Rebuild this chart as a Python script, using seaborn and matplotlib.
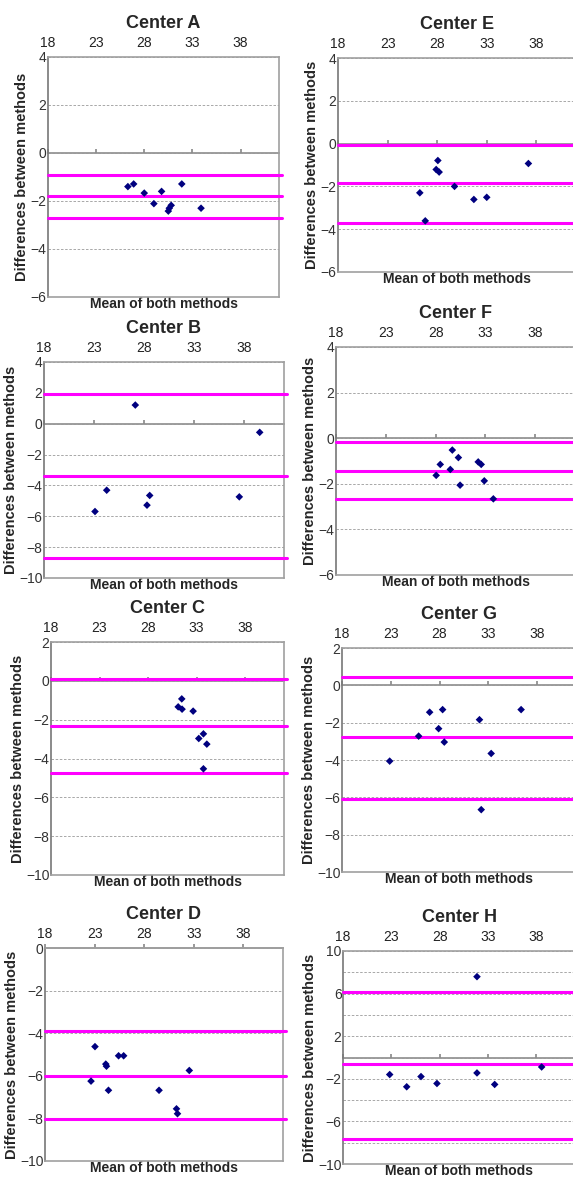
import matplotlib.pyplot as plt
import seaborn as sns
from matplotlib.ticker import MultipleLocator

sns.set_theme(style="white")
plt.rcParams["font.family"] = ["Liberation Sans", "DejaVu Sans"]

# shared x axis
x_ticks = [18, 23, 28, 33, 38]
x_range = [18, 42]

# Center A
a_mean = [26.3, 26.9, 28.0, 29.0, 29.8, 30.5, 30.6, 30.8, 31.9, 33.9]
a_diff = [-1.40, -1.29, -1.67, -2.11, -1.60, -2.42, -2.30, -2.18, -1.29, -2.30]
a_limits = [-0.92, -1.80, -2.70]
a_yticks = [-6, -4, -2, 0, 2, 4]

# Center E
e_mean = [26.25, 26.8, 28.07, 27.9, 28.2, 29.75, 31.7, 33.0, 37.2]
e_diff = [-2.30, -3.61, -0.79, -1.21, -1.33, -2.00, -2.61, -2.51, -0.93]
e_limits = [-0.05, -1.86, -3.73]
e_yticks = [-6, -4, -2, 0, 2, 4]

# Center B
b_mean = [23.1, 24.27, 27.13, 28.3, 28.57, 37.53, 39.57]
b_diff = [-5.69, -4.31, 1.21, -5.28, -4.65, -4.74, -0.56]
b_limits = [1.93, -3.38, -8.68]
b_yticks = [-10, -8, -6, -4, -2, 0, 2, 4]

# Center F
f_mean = [28.06, 28.47, 29.48, 29.68, 30.29, 30.46, 32.28, 32.58, 32.89, 33.8]
f_diff = [-1.63, -1.15, -1.37, -0.52, -0.85, -2.06, -1.04, -1.15, -1.87, -2.66]
f_limits = [-0.16, -1.43, -2.67]
f_yticks = [-6, -4, -2, 0, 2, 4]

# Center C
c_mean = [31.1, 31.47, 31.5, 32.64, 33.22, 33.7, 34.05, 33.7]
c_diff = [-1.34, -0.93, -1.46, -1.56, -2.97, -2.73, -3.26, -4.53]
c_limits = [0.10, -2.32, -4.77]
c_yticks = [-10, -8, -6, -4, -2, 0, 2]

# Center G
g_mean = [22.89, 25.86, 26.99, 27.91, 28.32, 28.49, 32.1, 32.28, 33.3, 36.37]
g_diff = [-4.06, -2.72, -1.44, -2.32, -1.30, -3.04, -1.84, -6.66, -3.65, -1.30]
g_limits = [0.47, -2.78, -6.10]
g_yticks = [-10, -8, -6, -4, -2, 0, 2]

# Center D
d_mean = [22.64, 23.04, 24.13, 24.2, 24.4, 25.42, 25.93, 29.5, 31.26, 31.36, 32.55]
d_diff = [-6.25, -4.63, -5.45, -5.55, -6.68, -5.06, -5.06, -6.68, -7.55, -7.78, -5.75]
d_limits = [-3.92, -6.02, -8.04]
d_yticks = [-10, -8, -6, -4, -2, 0]

# Center H
h_mean = [22.83, 24.59, 26.07, 27.72, 31.86, 31.86, 33.69, 38.55]
h_diff = [-1.60, -2.75, -1.79, -2.44, 7.59, -1.45, -2.53, -0.89]
h_limits = [6.17, -0.64, -7.67]
h_yticks = [-10, -6, -2, 2, 6, 10]

panels = [
    ("Center A", a_mean, a_diff, a_limits, a_yticks, (48, 57, 279, 297)),
    ("Center E", e_mean, e_diff, e_limits, e_yticks, (338, 58, 576, 272)),
    ("Center B", b_mean, b_diff, b_limits, b_yticks, (44, 362, 284, 578)),
    ("Center F", f_mean, f_diff, f_limits, f_yticks, (336, 347, 575, 575)),
    ("Center C", c_mean, c_diff, c_limits, c_yticks, (51, 642, 284, 875)),
    ("Center G", g_mean, g_diff, g_limits, g_yticks, (342, 648, 576, 872)),
    ("Center D", d_mean, d_diff, d_limits, d_yticks, (45, 948, 283, 1161)),
    ("Center H", h_mean, h_diff, h_limits, h_yticks, (343, 951, 575, 1164)),
]

W, H = 573, 1180
fig = plt.figure(figsize=(W / 100, H / 100), dpi=100)

for title, xs, ys, limits, yticks, (l, t, r, b) in panels:
    ax = fig.add_axes([l / W, 1 - b / H, (r - l) / W, (b - t) / H])
    ax.set_xlim(x_range)
    ax.set_ylim(yticks[0], yticks[-1])

    # dashed grid every 2 units
    ax.set_yticks(yticks)
    ax.yaxis.set_minor_locator(MultipleLocator(2))
    ax.grid(which="both", axis="y", color="#9a9a9a", lw=0.6, ls=(0, (3, 2)))
    ax.grid(which="both", axis="x", visible=False)

    # mean and limits of agreement
    for v in limits:
        ax.axhline(v, xmin=0, xmax=1.012, color="#ff00ff", lw=2.2,
                   clip_on=False, zorder=3)

    sns.scatterplot(x=xs, y=ys, marker="D", color="#00007f", s=15,
                    edgecolor="none", ax=ax, zorder=4)

    # x labels on top, axis line crossing at zero
    ax.xaxis.tick_top()
    ax.set_xticks(x_ticks)
    ax.tick_params(axis="x", length=0, pad=5, labelsize=10, labelcolor="#222222")
    sec = ax.secondary_xaxis(0, transform=ax.transData)
    sec.set_xticks(x_ticks)
    sec.tick_params(axis="x", length=3, direction="in", color="#8c8c8c",
                    labelbottom=False, labeltop=False)
    for s in sec.spines.values():
        s.set_color("#8c8c8c")
        s.set_linewidth(1.2)

    ax.tick_params(axis="y", which="both", length=0, pad=1, labelsize=10,
                   labelcolor="#333333")

    for s in ax.spines.values():
        s.set_color("#a0a0a0")
        s.set_linewidth(1.2)
    ax.spines["left"].set_color("#777777")

    ax.set_title(title, fontweight="bold", fontsize=13, pad=6)
    ax.xaxis.set_label_position("bottom")
    ax.set_xlabel("Mean of both methods", fontweight="bold", fontsize=10, labelpad=0)
    ax.set_ylabel("Differences between methods", fontweight="bold", fontsize=10.5,
                  labelpad=1)

fig.savefig("out.png", dpi=100)
